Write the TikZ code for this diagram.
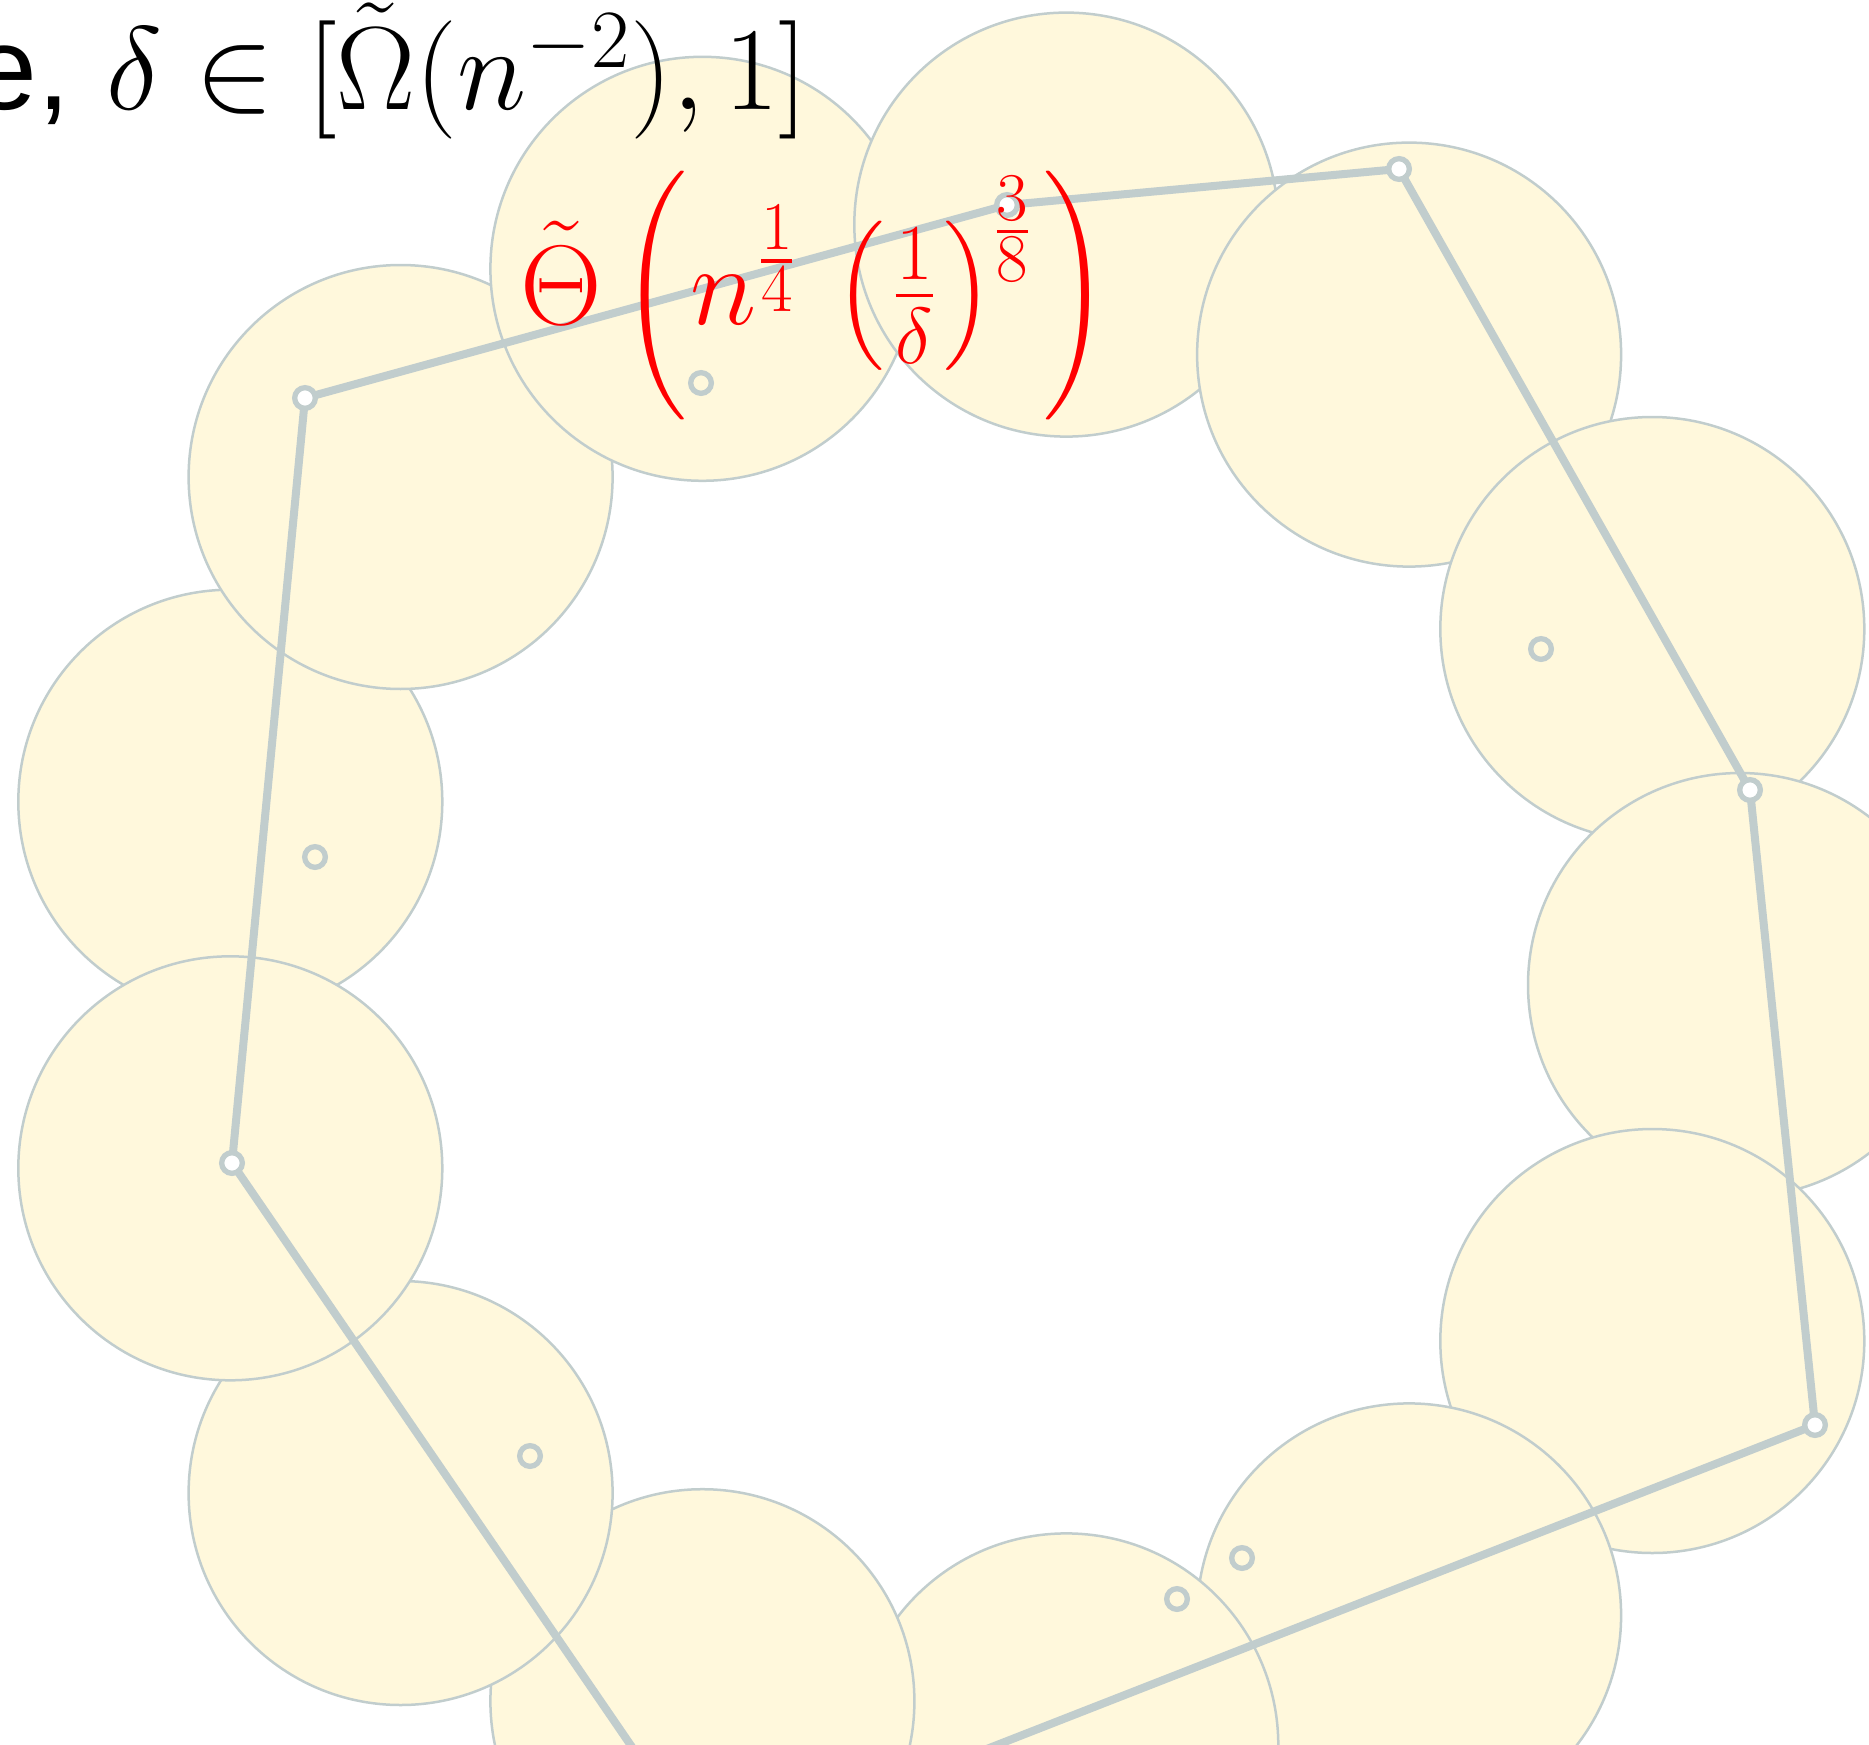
\RequirePackage{fix-cm}
\documentclass[tikz,border=0pt]{standalone}
\usepackage{amsmath}
\usepackage[no-math]{fontspec}
\newfontfamily\arialfont{Liberation Sans}
\definecolor{ringgray}{HTML}{C1CDCD}
\definecolor{creamfill}{HTML}{FFF8DC}
\newcommand{\expdigit}[1]{\mbox{\fontsize{20.5}{24}\selectfont #1}}
\newcommand{\sfr}[2]{\frac{\expdigit{#1}}{\expdigit{#2}}}
\newcommand{\fixparen}[1]{{\nulldelimiterspace=0pt \left#1\vcenter to 75pt{}\right.}}
\begin{document}
\begin{tikzpicture}[x=0.3pt,y=-0.3pt,
  disk/.style={draw=ringgray,fill=creamfill,line width=0.75pt},
  hull/.style={draw=ringgray,line width=2.4pt},
  vertexmark/.style={draw=ringgray,fill=white,line width=1.6pt},
  pointmark/.style={draw=ringgray,line width=1.6pt},
  blacktext/.style={inner sep=0pt,font=\fontsize{35.5}{42}\selectfont},
  redtext/.style={inner sep=0pt,text=red,font=\fontsize{34}{40}\selectfont},
]
\useasboundingbox (0,0) rectangle (1869,1744);
\clip (0,0) rectangle (1869,1744);
% disks, in the order they are stacked
\foreach \cx/\cy in {230.3/801.7, 400.6/477.0, 702.4/268.8, 1066.3/224.6,
  1409.1/354.6, 1652.3/629.0, 1740/985, 1652.3/1341.0, 1409.1/1615.4,
  1066.3/1745.4, 702.4/1701.2, 400.6/1493.0, 230.3/1168.3}
  \draw[disk] (\cx,\cy) circle[radius=63.6pt];
% points
\coordinate (p1) at (305,398);
\coordinate (p2) at (1007,205);
\coordinate (p3) at (1399,169);
\coordinate (p4) at (1750,790);
\coordinate (p5) at (1815,1425);
\coordinate (p6) at (708,1858);
\coordinate (p7) at (232,1163);
\coordinate (q1) at (701,383);
\coordinate (q2) at (1541,649);
\coordinate (q3) at (315,857);
\coordinate (q4) at (530,1456);
\coordinate (q5) at (1177,1599);
\coordinate (q6) at (1242,1558);
% hull
\draw[hull] (p1) -- (p2) -- (p3) -- (p4) -- (p5) -- (p6) -- (p7) -- cycle;
\foreach \p in {p1,p2,p3,p4,p5,p6,p7}
  \draw[vertexmark] (\p) circle[radius=3.1pt];
\foreach \p in {q1,q2,q3,q4,q5,q6}
  \draw[pointmark] (\p) circle[radius=3.1pt];
% texts
\node[blacktext,anchor=base west] (range) at (106,110)
  {\llap{\arialfont e,\hspace{11pt}}$\delta\in[\tilde{\Omega}(n^{-2}),1]$};
\node[redtext,anchor=base west] (bound) at (520,324)
  {$\tilde{\Theta}\,\mathopen{\fixparen(}n^{\sfr{1}{4}}\mkern3mu\left(\mkern1mu\frac{1}{\delta}\mkern1mu\right)^{\sfr{3}{8}}\mkern1.5mu\mathclose{\fixparen)}$};
\end{tikzpicture}
\end{document}
